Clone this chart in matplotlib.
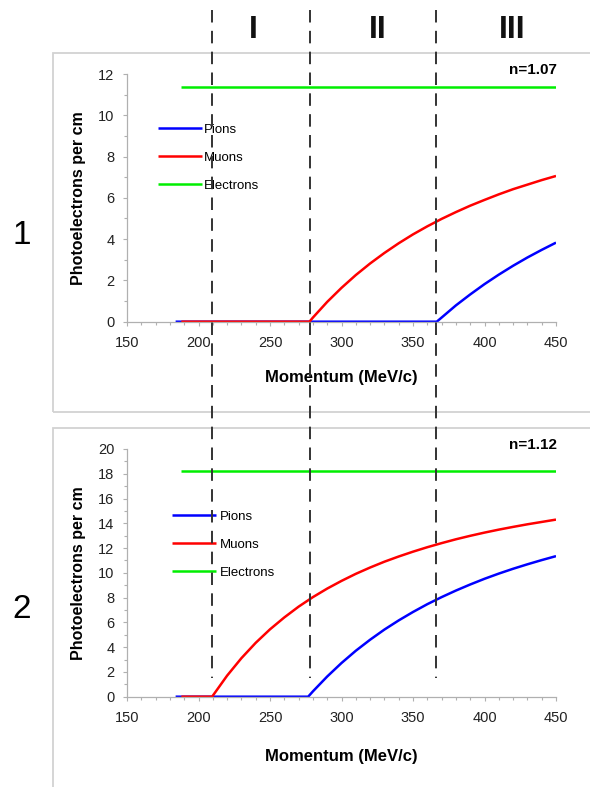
import matplotlib
matplotlib.use("Agg")
import matplotlib.pyplot as plt
from matplotlib.lines import Line2D
from matplotlib.patches import Rectangle
from matplotlib.transforms import blended_transform_factory
from matplotlib.ticker import MultipleLocator

plt.rcParams["font.family"] = ["Liberation Sans", "DejaVu Sans"]
plt.rcParams["lines.scale_dashes"] = False

# --- data (momentum in MeV/c, photoelectrons per cm) ---
regions = ["I", "II", "III"]
region_centers = [253, 378, 512]        # pixel x of the roman numerals
thresholds = [209.5, 278.0, 366.0]      # dashed boundaries

# panel 1, n = 1.07
p_pion1 = [184, 366.6, 370, 380, 390, 400, 410, 420, 430, 440, 450]
pe_pion1 = [0, 0, 0.20, 0.79, 1.32, 1.82, 2.28, 2.71, 3.11, 3.48, 3.83]
p_muon1 = [188, 277.6, 280, 290, 300, 310, 320, 330, 340, 350, 360,
           370, 380, 390, 400, 410, 420, 430, 440, 450]
pe_muon1 = [0, 0, 0.20, 0.96, 1.64, 2.26, 2.82, 3.33, 3.80, 4.23, 4.62,
            4.98, 5.31, 5.62, 5.90, 6.17, 6.42, 6.64, 6.86, 7.06]
p_elec1 = [188, 450]
pe_elec1 = [11.35, 11.35]

# panel 2, n = 1.12
p_pion2 = [184, 276.7, 280, 290, 300, 310, 320, 330, 340, 350, 360,
           370, 380, 390, 400, 410, 420, 430, 440, 450]
pe_pion2 = [0, 0, 0.43, 1.63, 2.72, 3.71, 4.60, 5.42, 6.16, 6.84, 7.47,
            8.04, 8.57, 9.06, 9.52, 9.94, 10.33, 10.69, 11.03, 11.35]
p_muon2 = [188, 209.5, 220, 230, 240, 250, 260, 270, 280, 290, 300, 310,
           320, 330, 340, 350, 360, 370, 380, 390, 400, 410, 420, 430, 440, 450]
pe_muon2 = [0, 0, 1.70, 3.11, 4.35, 5.44, 6.40, 7.27, 8.04, 8.73, 9.35, 9.92,
            10.43, 10.90, 11.32, 11.71, 12.07, 12.40, 12.71, 12.99, 13.25,
            13.49, 13.71, 13.92, 14.11, 14.30]
p_elec2 = [188, 450]
pe_elec2 = [18.2, 18.2]

W, H = 590, 787
fig = plt.figure(figsize=(W / 100, H / 100), dpi=100)


def fx(px):
    return px / W


def fy(py):
    return 1 - py / H


# grey panel frames
for top, bottom in [(53, 412), (428, 800)]:
    fig.add_artist(Rectangle((fx(53), fy(bottom)), fx(600) - fx(53), fy(top) - fy(bottom),
                             transform=fig.transFigure, fill=False,
                             edgecolor="#d2d2d2", linewidth=1.3))

panels = [
    dict(top=74, bottom=321.7, ymax=12, label="n=1.07", num="1", num_y=235,
         xlab_y=378, leg=(158, 123.5, 0.2),
         pion=(p_pion1, pe_pion1), muon=(p_muon1, pe_muon1), elec=(p_elec1, pe_elec1)),
    dict(top=449, bottom=696.7, ymax=20, label="n=1.12", num="2", num_y=610,
         xlab_y=756, leg=(172, 510.5, 0.35),
         pion=(p_pion2, pe_pion2), muon=(p_muon2, pe_muon2), elec=(p_elec2, pe_elec2)),
]

axes = []
for pn in panels:
    ax = fig.add_axes([fx(127), fy(pn["bottom"]), fx(556) - fx(127),
                       fy(pn["top"]) - fy(pn["bottom"])])
    ax.patch.set_alpha(0)
    ax.plot(*pn["pion"], color="#0000ff", lw=1.8, label="Pions", solid_capstyle="butt")
    ax.plot(*pn["muon"], color="#ff0000", lw=1.8, label="Muons", solid_capstyle="butt")
    ax.plot(*pn["elec"], color="#00ee00", lw=1.8, label="Electrons", solid_capstyle="butt")

    ax.set_xlim(150, 450)
    ax.set_ylim(0, pn["ymax"])
    ax.xaxis.set_major_locator(MultipleLocator(50))
    ax.xaxis.set_minor_locator(MultipleLocator(10))
    ax.yaxis.set_major_locator(MultipleLocator(2))
    ax.yaxis.set_minor_locator(MultipleLocator(1))
    for s in ["top", "right"]:
        ax.spines[s].set_visible(False)
    for s in ["left", "bottom"]:
        ax.spines[s].set_color("#b0b0b0")
        ax.spines[s].set_linewidth(0.9)
    ax.tick_params(which="major", direction="out", length=3, width=0.8,
                   color="#b0b0b0", labelsize=10.5, labelcolor="#222222")
    ax.tick_params(which="minor", direction="out", length=2, width=0.8, color="#b0b0b0")
    ax.tick_params(axis="x", which="major", pad=7)
    ax.tick_params(axis="y", which="major", pad=6)

    ax.set_xlabel("Momentum (MeV/c)", fontsize=12, fontweight="bold")
    ax.xaxis.set_label_coords(0.5, (pn["bottom"] - pn["xlab_y"]) / (pn["bottom"] - pn["top"]))
    ax.xaxis.label.set_va("center")
    ax.set_ylabel("Photoelectrons per cm", fontsize=11.5, fontweight="bold")
    ax.yaxis.set_label_coords((78 - 127) / (556 - 127), 0.5)
    ax.yaxis.label.set_va("center")

    fig.text(fx(557), fy(pn["top"] - 4), pn["label"], fontsize=11, fontweight="bold",
             ha="right", va="center")
    fig.text(fx(22), fy(pn["num_y"]), pn["num"], fontsize=24, ha="center", va="center")

    lx, ly, pad = pn["leg"]
    ax.legend(loc="upper left", bbox_to_anchor=(fx(lx), fy(ly)), bbox_transform=fig.transFigure,
              frameon=False, fontsize=9.5, handlelength=3.3, handletextpad=pad,
              labelspacing=1.2, borderpad=0, borderaxespad=0)
    axes.append(ax)

# dashed region boundaries spanning both panels
trans = blended_transform_factory(axes[0].transData, fig.transFigure)
for x in thresholds:
    fig.add_artist(Line2D([x, x], [fy(10), fy(678)], transform=trans, color="#333333",
                          lw=1.4, linestyle=(0, (9, 6))))

for name, cx in zip(regions, region_centers):
    fig.text(fx(cx), fy(30), name, fontsize=23, fontweight="bold", ha="center",
             va="center", color="#111111")

fig.savefig("out.png", dpi=100)
